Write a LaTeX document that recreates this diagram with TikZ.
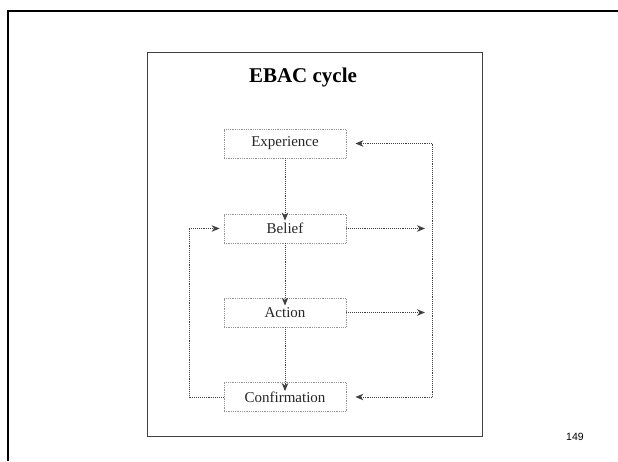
\documentclass[tikz,border=0pt]{standalone}
\usepackage{fontspec}
\setmainfont{Liberation Serif}
\newfontfamily\pagefont{Liberation Sans}
\usetikzlibrary{arrows.meta}
\begin{document}
\begin{tikzpicture}[x=1pt,y=-1pt,
  stagebox/.style={draw=gray!85, densely dotted, line width=0.8pt,
    minimum width=122pt, minimum height=29pt, inner sep=0pt,
    font=\fontsize{15}{17}\selectfont, text=black!85},
  conn/.style={draw=black!75, densely dotted, line width=0.9pt},
  tip/.style={-{Stealth[length=8pt,width=6.5pt,inset=2.5pt]}}
]
\useasboundingbox (0,0) rectangle (618,461);
% page frame (top and left edges)
\draw[line width=1.8pt, black] (8,461) -- (8,11) -- (618,11);
% slide panel
\draw[line width=0.8pt, black!75] (147,52) rectangle (482,436);
\node[font=\fontsize{21}{25}\selectfont\bfseries] (title) at (303,77) {EBAC cycle};

% stages
\node[stagebox] (exp)  at (285,143.5) {Experience};
\node[stagebox] (bel)  at (285,228.5) {Belief};
\node[stagebox] (act)  at (285,312.5) {Action};
\node[stagebox] (conf) at (285,397)   {Confirmation};

% feedback rails
\coordinate (rtop) at (432,143.5);
\coordinate (rbot) at (432,397);
\coordinate (lrail) at (189,397);

% main chain
\draw[conn,tip] (exp.south) -- ([yshift=-7pt]bel.north);
\draw[conn,tip] (bel.south) -- ([yshift=-8pt]act.north);
\draw[conn,tip] (act.south) -- ([yshift=-9pt]conf.north);

% right rail
\draw[conn] (rtop) -- (rbot);
\draw[conn,tip] (bel.east) -- ([xshift=-7pt]bel.east -| rtop);
\draw[conn,tip] (act.east) -- ([xshift=-7pt]act.east -| rtop);
\draw[conn,tip] (rtop) -- ([xshift=9pt]exp.east);
\draw[conn,tip] (rbot) -- ([xshift=9pt]conf.east);

% left rail
\draw[conn,tip] (conf.west) -- (lrail) -- (lrail |- bel.west) -- ([xshift=-4pt]bel.west);

% page number
\node[font=\pagefont\fontsize{10.5}{12}\selectfont] (pageno) at (575,437) {149};
\end{tikzpicture}
\end{document}
